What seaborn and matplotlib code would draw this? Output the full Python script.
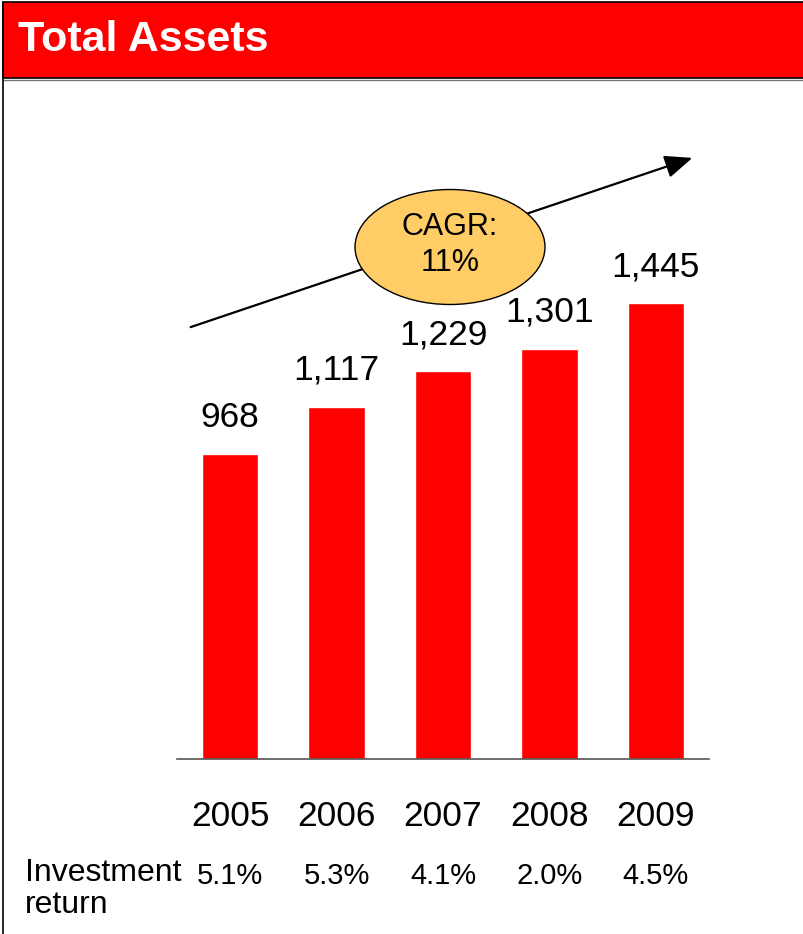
import matplotlib
matplotlib.use("Agg")
import matplotlib.pyplot as plt
from matplotlib.patches import Rectangle, Ellipse, FancyArrowPatch
from matplotlib.lines import Line2D
import seaborn as sns
import pandas as pd

years = ["2005", "2006", "2007", "2008", "2009"]
total_assets = [968, 1117, 1229, 1301, 1445]
investment_return = ["5.1%", "5.3%", "4.1%", "2.0%", "4.5%"]
title = "Total Assets"
cagr_text = "CAGR:\n11%"
row_label = "Investment\nreturn"

sns.set_theme(style="white")
plt.rcParams["font.family"] = ["Liberation Sans", "DejaVu Sans"]

W, H = 804, 934
fig = plt.figure(figsize=(W / 100, H / 100), dpi=100)
fig.patch.set_facecolor("white")

def fx(px):
    return px / W

def fy(py):
    return 1 - py / H

# plotting area: baseline at y=759 px, 0.3155 px per unit
ax_left, ax_right, ax_bottom, ax_top = 177, 709, 759, 100
ax = fig.add_axes([fx(ax_left), fy(ax_bottom), fx(ax_right - ax_left), (ax_bottom - ax_top) / H])
df = pd.DataFrame({"year": years, "assets": total_assets})
sns.barplot(data=df, x="year", y="assets", color="#FF0000", saturation=1,
            width=0.53, ax=ax)
ax.set_xlim(-0.5, 4.5)
ax.set_ylim(0, (ax_bottom - ax_top) / 0.3155)
ax.set_facecolor("none")
for side in ["top", "left", "right"]:
    ax.spines[side].set_visible(False)
ax.spines["bottom"].set_color("#555555")
ax.spines["bottom"].set_linewidth(1.2)
ax.set_xticks([])
ax.set_yticks([])
ax.set_xlabel("")
ax.set_ylabel("")

# value labels above bars
for i, v in enumerate(total_assets):
    ax.annotate(f"{v:,}", xy=(i, v), xytext=(0, 26), textcoords="offset points",
                ha="center", va="center", fontsize=25.5, color="black",
                annotation_clip=False)

# year labels and investment returns below the axis
for i, (y, r) in enumerate(zip(years, investment_return)):
    ax.annotate(y, xy=(i, 0), xycoords=("data", "axes fraction"),
                xytext=(0, -58 * 0.72), textcoords="offset points",
                ha="center", va="center", fontsize=25.5, color="black",
                annotation_clip=False)
    ax.annotate(r, xy=(i, 0), xycoords=("data", "axes fraction"),
                xytext=(0, -117 * 0.72), textcoords="offset points",
                ha="center", va="center", fontsize=21, color="black",
                annotation_clip=False)

fig.text(fx(25), fy(889), row_label, ha="left", va="center", fontsize=23,
         linespacing=1.05, color="black")

# header band
fig.patches.append(Rectangle((fx(3), fy(78)), fx(W - 3), (78 - 2) / H,
                             transform=fig.transFigure, facecolor="#FF0000",
                             edgecolor="black", linewidth=1.2, zorder=1))
fig.lines.append(Line2D([fx(3), 1], [fy(80), fy(80)], transform=fig.transFigure,
                        color="#777777", linewidth=1.0))
fig.lines.append(Line2D([fx(3), fx(3)], [0, fy(2)], transform=fig.transFigure,
                        color="black", linewidth=1.2))
fig.text(fx(18), fy(40), title, ha="left", va="center", fontsize=31,
         fontweight="bold", color="white", zorder=3)

# growth arrow with CAGR bubble
fig.add_artist(FancyArrowPatch(
    (fx(188), fy(328)), (fx(695), fy(157)), transform=fig.transFigure,
    arrowstyle="-|>,head_length=12,head_width=5", mutation_scale=1.4,
    color="black", linewidth=1.6, zorder=4))
fig.add_artist(Ellipse((fx(450), fy(247)), fx(190), 115 / H,
                       transform=fig.transFigure, facecolor="#FFCC66",
                       edgecolor="black", linewidth=1.0, zorder=5))
fig.text(fx(450), fy(245), cagr_text, ha="center", va="center", fontsize=22,
         linespacing=1.25, color="black", zorder=6)

fig.savefig("out.png", dpi=100)
